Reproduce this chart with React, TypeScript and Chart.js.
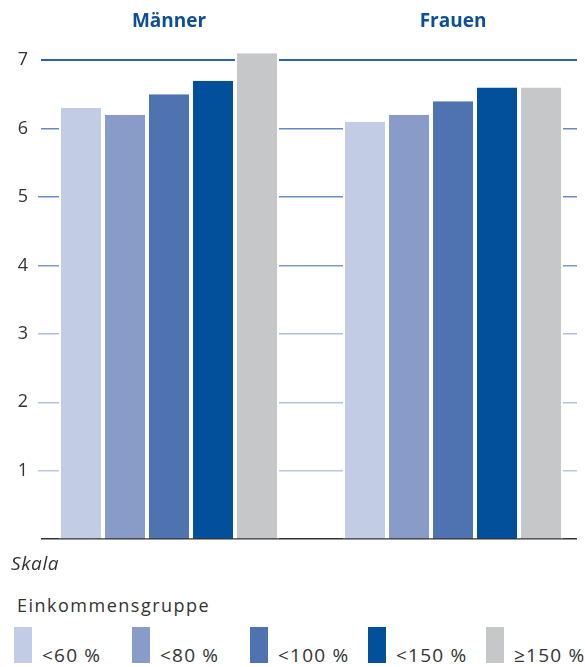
import React, { useEffect, useRef } from "react";
import { Chart, registerables } from "chart.js";

Chart.register(...registerables);

const groups = ["Männer", "Frauen"];
const seriesLabels = ["<60 %", "<80 %", "<100 %", "<150 %", "≥150 %"];
const seriesColors = ["#c3cce5", "#899bc8", "#4e73b0", "#02509b", "#c6c7c9"];
const s60 = [6.3, 6.1];
const s80 = [6.2, 6.2];
const s100 = [6.5, 6.4];
const s150 = [6.7, 6.6];
const sAbove = [7.1, 6.6];
const yTicks = [0, 1, 2, 3, 4, 5, 6, 7];
const gridColors = ["#333333", "#b9c6e4", "#b3c1e1", "#aebde0", "#8099cb", "#6f8bc3", "#6a89c2", "#2e63a6"];

const allSeries = [s60, s80, s100, s150, sAbove];

export default function App() {
  const ref = useRef<HTMLCanvasElement | null>(null);
  useEffect(() => {
    if (!ref.current) return;
    const chart = new Chart(ref.current, {
      type: "bar",
      data: {
        datasets: allSeries.map((vals, i) => ({
          label: seriesLabels[i],
          data: vals.map((v, g) => ({ x: g, y: v })),
          backgroundColor: seriesColors[i],
          borderColor: "#ffffff",
          borderWidth: { left: 2, right: 2, top: 0, bottom: 0 },
          borderSkipped: false,
          categoryPercentage: 220 / 284,
          barPercentage: 1,
        })),
      },
      options: {
        animation: false,
        responsive: false,
        maintainAspectRatio: false,
        layout: { autoPadding: false, padding: { top: 0, bottom: 8, left: 0, right: 8 } },
        plugins: { legend: { display: false }, tooltip: { enabled: false } },
        scales: {
          x: {
            type: "linear",
            position: "top",
            offset: false,
            min: -128 / 284,
            max: 1 + 124 / 284,
            afterBuildTicks: (scale: any) => {
              scale.ticks = groups.map((_, i) => ({ value: i }));
            },
            afterFit: (scale: any) => {
              scale.height = 36;
            },
            grid: { display: false, drawTicks: false, offset: false },
            border: { display: false },
            ticks: {
              autoSkip: false,
              maxRotation: 0,
              padding: 3,
              color: "#0c4f98",
              font: { family: "Open Sans", size: 19, weight: "bold" },
              callback: (v: any) => groups[Math.round(Number(v))] ?? "",
            },
          },
          y: {
            min: 0,
            max: 7.352,
            afterBuildTicks: (scale: any) => {
              scale.ticks = yTicks.map((v) => ({ value: v }));
            },
            afterFit: (scale: any) => {
              scale.width = 41;
            },
            border: { display: false },
            grid: {
              color: (c: any) => gridColors[Math.round(c.tick?.value ?? 0)] ?? "#999",
              lineWidth: (c: any) => (c.tick?.value === 7 ? 2 : 1.5),
              tickColor: (c: any) => {
                const v = c.tick?.value;
                return v === 0 || v === 6 || v === 7 ? "rgba(0,0,0,0)" : gridColors[Math.round(v ?? 0)];
              },
              tickLength: 3,
            },
            ticks: {
              padding: 10,
              color: "#333333",
              font: { family: "Open Sans", size: 18 },
              callback: (v: any) => (Number(v) === 0 ? "" : String(v)),
            },
          },
        },
      },
    });
    return () => chart.destroy();
  }, []);

  const legendX = [14, 132, 250, 368, 486];
  const textStyle: React.CSSProperties = {
    position: "absolute",
    fontFamily: "Open Sans",
    color: "#333333",
    whiteSpace: "nowrap",
    lineHeight: 1,
  };

  return (
    <div style={{ position: "absolute", left: 0, top: 0, width: 585, height: 667, background: "#fff" }}>
      <canvas ref={ref} width={585} height={560} style={{ position: "absolute", left: 0, top: 0 }} />
      <div style={{ ...textStyle, left: 11, top: 554, fontSize: 19, fontStyle: "italic", letterSpacing: 0.6 }}>Skala</div>
      <div style={{ ...textStyle, left: 17, top: 596, fontSize: 18, letterSpacing: 1.5 }}>Einkommensgruppe</div>
      {seriesLabels.map((lab, i) => (
        <React.Fragment key={lab}>
          <div
            style={{
              position: "absolute",
              left: legendX[i],
              top: 627,
              width: 18,
              height: 36,
              background: seriesColors[i],
            }}
          />
          <div style={{ ...textStyle, left: legendX[i] + 28, top: 646, fontSize: 19, letterSpacing: 1.2 }}>{lab}</div>
        </React.Fragment>
      ))}
    </div>
  );
}
